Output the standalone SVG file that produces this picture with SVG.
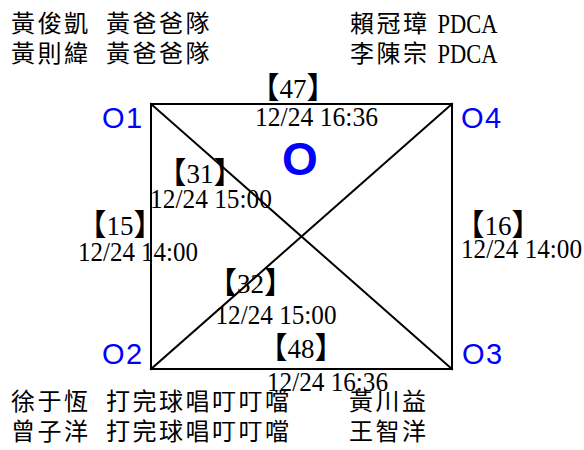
<svg xmlns="http://www.w3.org/2000/svg" width="584" height="450" viewBox="0 0 584 450">
<style>
  .name { font-family: "Noto Sans CJK TC", "Noto Sans CJK SC", sans-serif; font-size: 24px; letter-spacing: 2.5px; fill: #000; }
  .latin { font-family: "Liberation Serif", serif; font-size: 27px; fill: #000; }
  .time { font-family: "Liberation Serif", serif; font-size: 28px; fill: #000; }
  .tag { font-family: "Liberation Serif", "Noto Sans CJK TC", serif; font-size: 27px; fill: #000; text-anchor: middle; }
  .br { font-family: "Noto Sans CJK TC", "Noto Sans CJK SC", serif; font-size: 30px; }
  .corner { font-family: "Liberation Sans", Arial, sans-serif; font-size: 29px; letter-spacing: 1.5px; fill: #0000FF; }
  .center { font-family: "Liberation Sans", Arial, sans-serif; font-size: 46px; font-weight: bold; fill: #0000FF; text-anchor: middle; }
  .edge { stroke: #000; stroke-width: 2; stroke-linecap: square; fill: none; }
</style>
<rect width="584" height="450" fill="#fff"/>

<g id="connectors">
  <line id="e-O1-O4" class="edge" x1="151" y1="104" x2="452" y2="104"/>
  <line id="e-O1-O2" class="edge" x1="151" y1="104" x2="151" y2="369"/>
  <line id="e-O4-O3" class="edge" x1="452" y1="104" x2="452" y2="369"/>
  <line id="e-O2-O3" class="edge" x1="151" y1="369" x2="452" y2="369"/>
  <line id="e-O1-O3" class="edge" x1="151" y1="104" x2="452" y2="369"/>
  <line id="e-O2-O4" class="edge" x1="151" y1="369" x2="452" y2="104"/>
</g>

<g id="edge-labels">
  <g id="lbl-47">
    <text class="tag" x="293" y="98"><tspan class="br">【</tspan>47<tspan class="br">】</tspan></text>
    <text class="time" x="255" y="126" textLength="123" lengthAdjust="spacingAndGlyphs">12/24 16:36</text>
  </g>
  <g id="lbl-31">
    <text class="tag" x="200" y="183"><tspan class="br">【</tspan>31<tspan class="br">】</tspan></text>
    <text class="time" x="150" y="208" textLength="122" lengthAdjust="spacingAndGlyphs">12/24 15:00</text>
  </g>
  <g id="lbl-15">
    <text class="tag" x="120" y="235"><tspan class="br">【</tspan>15<tspan class="br">】</tspan></text>
    <text class="time" x="78" y="261" textLength="120" lengthAdjust="spacingAndGlyphs">12/24 14:00</text>
  </g>
  <g id="lbl-16">
    <text class="tag" x="498" y="235"><tspan class="br">【</tspan>16<tspan class="br">】</tspan></text>
    <text class="time" x="461" y="258" textLength="121" lengthAdjust="spacingAndGlyphs">12/24 14:00</text>
  </g>
  <g id="lbl-32">
    <text class="tag" x="250.5" y="293"><tspan class="br">【</tspan>32<tspan class="br">】</tspan></text>
    <text class="time" x="215.5" y="324" textLength="121" lengthAdjust="spacingAndGlyphs">12/24 15:00</text>
  </g>
  <g id="lbl-48">
    <text class="tag" x="301" y="357.5"><tspan class="br">【</tspan>48<tspan class="br">】</tspan></text>
    <text class="time" x="267" y="390.5" textLength="121" lengthAdjust="spacingAndGlyphs">12/24 16:36</text>
  </g>
</g>

<g id="node-O">
  <text class="center" x="300" y="174.5">O</text>
</g>

<g id="node-O1">
  <text class="corner" x="102" y="128">O1</text>
  <text class="name" x="11" y="32">黃俊凱 <tspan x="106">黃爸爸隊</tspan></text>
  <text class="name" x="11" y="62">黃則緯 <tspan x="106">黃爸爸隊</tspan></text>
</g>

<g id="node-O4">
  <text class="corner" x="461" y="128">O4</text>
  <text class="name" x="350" y="32">賴冠璋</text>
  <text class="latin" x="437.5" y="33" textLength="60" lengthAdjust="spacingAndGlyphs">PDCA</text>
  <text class="name" x="350" y="62">李陳宗</text>
  <text class="latin" x="437.5" y="63" textLength="60" lengthAdjust="spacingAndGlyphs">PDCA</text>
</g>

<g id="node-O2">
  <text class="corner" x="102" y="364">O2</text>
  <text class="name" x="11" y="410">徐于恆 <tspan x="106">打完球唱叮叮噹</tspan></text>
  <text class="name" x="11" y="440">曾子洋 <tspan x="106">打完球唱叮叮噹</tspan></text>
</g>

<g id="node-O3">
  <text class="corner" x="462" y="364">O3</text>
  <text class="name" x="349" y="410">黃川益</text>
  <text class="name" x="349" y="440">王智洋</text>
</g>
</svg>
